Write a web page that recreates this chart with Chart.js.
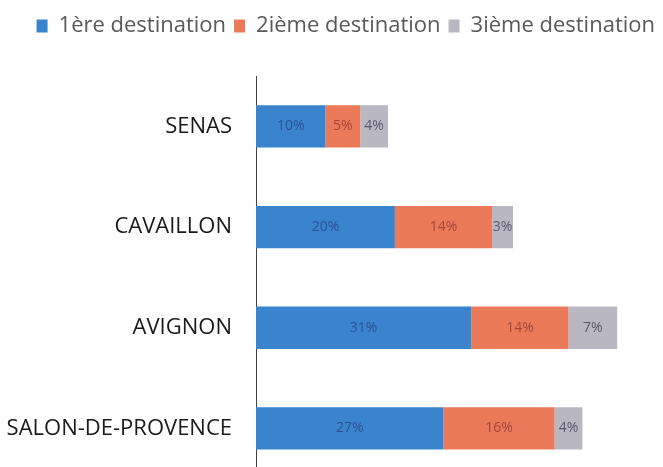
<!DOCTYPE html>
<html>
<head>
<meta charset="utf-8">
<script src="https://cdn.jsdelivr.net/npm/chart.js@4"></script>
<style>
  html, body { margin: 0; padding: 0; background: #fff; overflow: hidden; }
</style>
</head>
<body>
<canvas id="myChart" width="663" height="516"></canvas>
<script>
// Villes
const villes = ['SENAS', 'CAVAILLON', 'AVIGNON', 'SALON-DE-PROVENCE'];

// Parts par destination (%)
const dest1 = [10, 20, 31, 27];
const dest2 = [5, 14, 14, 16];
const dest3 = [4, 3, 7, 4];

const seriesNames = ['1ère destination', '2ième destination', '3ième destination'];
const barColors = ['rgb(58, 132, 205)', 'rgb(234, 122, 90)', 'rgb(184, 183, 194)'];
const labelColors = ['rgb(45, 80, 150)', 'rgb(165, 70, 55)', 'rgb(90, 90, 105)'];

// draws the % value in the middle of each segment
const segmentLabels = {
    id: 'segmentLabels',
    afterDatasetsDraw(chart) {
        const ctx = chart.ctx;
        ctx.save();
        ctx.font = '14px "Open Sans"';
        ctx.textAlign = 'center';
        ctx.textBaseline = 'middle';
        chart.data.datasets.forEach((ds, i) => {
            const meta = chart.getDatasetMeta(i);
            meta.data.forEach((bar, j) => {
                const p = bar.getCenterPoint();
                ctx.fillStyle = labelColors[i];
                ctx.fillText(ds.data[j] + '%', p.x, p.y);
            });
        });
        ctx.restore();
    }
};

const legendHeight = {
    id: 'legendHeight',
    beforeInit(chart) {
        const fit = chart.legend.fit;
        chart.legend.fit = function () {
            fit.bind(chart.legend)();
            this.height = 69;
        };
    }
};

const ctx = document.getElementById('myChart').getContext('2d');
new Chart(ctx, {
    type: 'bar',
    data: {
        labels: villes,
        datasets: [dest1, dest2, dest3].map((values, index) => ({
            label: seriesNames[index],
            data: values,
            backgroundColor: barColors[index],
            borderWidth: 0,
            categoryPercentage: 1,
            barPercentage: 0.42,
        })),
    },
    options: {
        indexAxis: 'y',
        responsive: false,
        animation: false,
        layout: { padding: { left: 0, right: 0, top: 7, bottom: 0 } },
        plugins: {
            tooltip: { enabled: false },
            legend: {
                position: 'top',
                align: 'end',
                labels: {
                    boxWidth: 11,
                    boxHeight: 13,
                    padding: 8,
                    color: '#595959',
                    font: { family: 'Open Sans', size: 22 },
                },
            },
        },
        scales: {
            x: {
                stacked: true,
                min: 0,
                max: 58.6,
                display: false,
            },
            y: {
                stacked: true,
                afterFit(scale) { scale.width = 256; },
                grid: { display: false, drawTicks: false },
                border: { display: true, color: '#404040', width: 1 },
                ticks: {
                    padding: 24,
                    color: '#1a1a1a',
                    font: { family: 'Open Sans', size: 22 },
                },
            },
        },
    },
    plugins: [segmentLabels, legendHeight],
});
</script>
</body>
</html>
